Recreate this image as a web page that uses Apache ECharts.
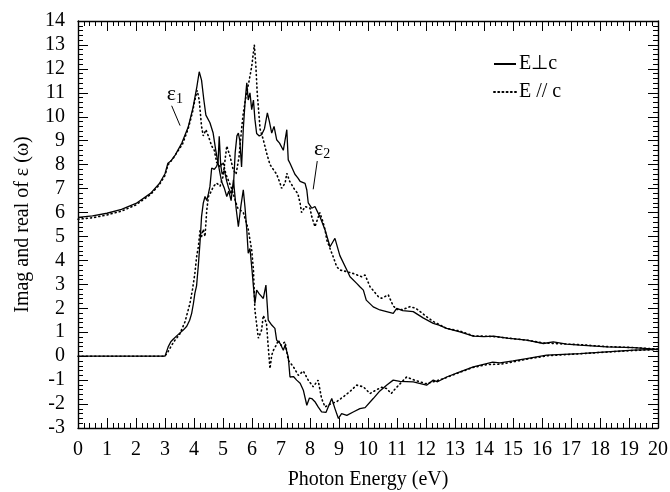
<!DOCTYPE html>
<html>
<head>
<meta charset="utf-8">
<title>Dielectric function</title>
<script src="https://cdn.jsdelivr.net/npm/echarts@6/dist/echarts.min.js"></script>
<style>
	*{margin:0;padding:0;}
	#main{width:670px;height:492px;background:#fff;}
</style>
</head>
<body>
<div id="main"></div>
<script>
// real part, E perpendicular c  [eV, value]
var eps1Perp = [[0,5.8],[0.5,5.86],[1,5.97],[1.5,6.13],[2,6.38],[2.5,6.8],[2.8,7.2],[3,7.62],[3.1,8.06],[3.2,8.15],[3.35,8.4],[3.58,8.9],[3.8,9.57],[3.97,10.4],[4.1,11.26],[4.18,11.88],[4.26,11.53],[4.34,10.7],[4.41,10.07],[4.45,10.05],[4.55,9.75],[4.66,9.32],[4.75,8.6],[4.83,8.06],[4.95,7.3],[5.05,7.0],[5.13,6.67],[5.2,6.9],[5.28,6.5],[5.36,7.37],[5.45,6.2],[5.53,5.41],[5.62,6.3],[5.7,6.95],[5.76,6.2],[5.82,5.27],[5.87,4.3],[5.93,4.5],[6.0,3.6],[6.1,2.2],[6.16,2.76],[6.25,2.6],[6.39,2.41],[6.48,2.97],[6.56,1.51],[6.68,1.3],[6.79,1.16],[6.85,0.67],[6.97,0.53],[7.08,0.25],[7.14,0.46],[7.25,-0.03],[7.31,-0.87],[7.43,-0.85],[7.54,-1.0],[7.66,-1.13],[7.77,-1.42],[7.89,-2.05],[7.98,-1.75],[8.06,-1.77],[8.17,-1.9],[8.28,-2.12],[8.4,-2.33],[8.55,-2.35],[8.75,-1.77],[8.86,-2.19],[8.98,-2.6],[9.09,-2.4],[9.27,-2.47],[9.49,-2.33],[9.72,-2.19],[9.9,-2.15],[10.18,-1.77],[10.41,-1.45],[10.65,-1.2],[10.87,-1.0],[11.1,-1.05],[11.56,-1.07],[12.02,-1.21],[12.25,-1.0],[12.4,-1.07],[12.71,-0.87],[13.17,-0.66],[13.63,-0.45],[14.09,-0.31],[14.3,-0.25],[14.55,-0.28],[15.0,-0.2],[15.47,-0.1],[16.16,0.04],[17.31,0.11],[18.23,0.18],[19.15,0.25],[20,0.28]];
// real part, E parallel c
var eps1Para = [[0,5.72],[0.5,5.78],[1,5.9],[1.5,6.06],[2,6.32],[2.5,6.75],[2.8,7.15],[3,7.55],[3.1,7.98],[3.3,8.3],[3.6,8.85],[3.8,9.5],[3.95,10.2],[4.03,10.7],[4.11,11.1],[4.18,10.7],[4.26,9.6],[4.32,9.2],[4.41,9.46],[4.5,9.18],[4.61,8.78],[4.7,8.6],[4.78,8.1],[4.9,7.9],[5.0,8.1],[5.1,7.6],[5.2,7.3],[5.3,7.0],[5.4,6.6],[5.5,6.2],[5.6,6.1],[5.7,6.0],[5.8,5.6],[5.87,5.3],[5.99,4.43],[6.05,3.6],[6.1,1.93],[6.22,0.75],[6.33,1.09],[6.39,1.7],[6.5,1.37],[6.56,0.39],[6.62,-0.52],[6.68,0.04],[6.74,0.25],[6.85,0.5],[6.91,0.67],[7.0,0.45],[7.14,0.6],[7.25,-0.17],[7.43,-0.45],[7.6,-0.8],[7.77,-0.62],[7.94,-1.0],[8.11,-1.28],[8.28,-1.0],[8.4,-1.77],[8.52,-2.12],[8.7,-2.0],[8.92,-1.9],[9.2,-1.65],[9.4,-1.45],[9.61,-1.21],[9.84,-1.28],[10.07,-1.56],[10.3,-1.4],[10.47,-1.3],[10.64,-1.35],[10.8,-1.56],[10.95,-1.35],[11.33,-0.87],[11.6,-1.0],[12.0,-1.15],[12.3,-1.05],[12.6,-0.94],[13.0,-0.75],[13.6,-0.48],[14.1,-0.35],[14.6,-0.33],[15.5,-0.12],[16.2,0.02],[17.3,0.1],[18.2,0.17],[19.2,0.24],[20,0.28]];
// imaginary part, E perpendicular c
var eps2Perp = [[0,0],[1,0],[2,0],[3,0],[3.05,0.05],[3.11,0.39],[3.2,0.6],[3.29,0.72],[3.45,0.9],[3.63,1.09],[3.75,1.25],[3.85,1.5],[3.92,1.79],[3.98,2.2],[4.03,2.62],[4.09,2.95],[4.15,3.8],[4.21,4.8],[4.26,5.83],[4.32,6.39],[4.38,6.67],[4.44,6.5],[4.5,6.8],[4.55,7.09],[4.61,7.86],[4.7,7.8],[4.78,7.93],[4.83,8.1],[4.87,9.18],[4.92,8.0],[4.97,7.6],[5.05,7.75],[5.13,7.3],[5.2,7.0],[5.28,6.8],[5.36,7.1],[5.42,8.5],[5.48,9.2],[5.53,9.32],[5.58,9.0],[5.64,7.9],[5.7,9.5],[5.76,10.6],[5.82,11.42],[5.87,10.7],[5.93,11.0],[5.99,10.3],[6.05,10.7],[6.1,9.9],[6.16,9.3],[6.25,9.2],[6.33,9.25],[6.43,9.5],[6.53,10.16],[6.6,9.8],[6.68,9.32],[6.76,9.6],[6.85,9.04],[6.95,8.9],[7.08,8.6],[7.2,9.46],[7.25,8.2],[7.31,8.06],[7.48,7.6],[7.58,7.45],[7.66,7.3],[7.83,7.22],[7.89,6.94],[7.94,6.4],[8.06,6.18],[8.17,6.25],[8.34,5.83],[8.52,5.27],[8.69,4.57],[8.8,4.8],[8.86,4.92],[9.03,4.2],[9.27,3.6],[9.38,3.32],[9.61,3.04],[9.72,2.9],[9.84,2.76],[9.94,2.34],[10.18,2.06],[10.41,1.93],[10.87,1.79],[10.99,2.0],[11.2,1.9],[11.56,1.86],[11.9,1.6],[12.25,1.37],[12.45,1.3],[12.71,1.16],[13.17,1.02],[13.63,0.84],[14.0,0.82],[14.32,0.84],[14.8,0.75],[15.47,0.67],[16.05,0.53],[16.39,0.6],[16.85,0.5],[17.31,0.46],[18.23,0.39],[19.15,0.36],[20,0.28]];
// imaginary part, E parallel c
var eps2Para = [[0,0],[1,0],[2,0],[3,0],[3.11,0.2],[3.3,0.6],[3.5,0.9],[3.69,1.44],[3.86,2.2],[3.95,2.8],[4.03,3.46],[4.09,4.15],[4.15,4.57],[4.21,5.27],[4.26,5.0],[4.32,5.3],[4.38,5.0],[4.44,6.11],[4.5,6.67],[4.6,6.9],[4.67,7.09],[4.78,7.23],[4.9,7.1],[5.0,7.5],[5.13,8.78],[5.24,8.36],[5.35,7.8],[5.45,7.6],[5.55,8.3],[5.65,9.6],[5.7,10.16],[5.8,10.9],[5.9,11.5],[5.99,12.1],[6.08,13.0],[6.13,12.2],[6.18,11.0],[6.28,9.48],[6.39,9.04],[6.5,8.5],[6.62,8.0],[6.68,8.06],[6.74,7.79],[6.85,7.6],[6.97,7.22],[7.02,7.01],[7.14,7.22],[7.2,7.64],[7.3,7.3],[7.48,6.94],[7.58,6.8],[7.66,6.38],[7.71,6.0],[7.83,6.25],[8.0,6.18],[8.06,5.83],[8.17,5.41],[8.34,6.0],[8.45,5.6],[8.52,5.27],[8.58,4.85],[8.8,4.15],[8.92,3.74],[9.03,3.6],[9.27,3.53],[9.5,3.45],[9.78,3.32],[9.9,3.39],[10.07,2.9],[10.36,2.48],[10.47,2.42],[10.7,2.56],[10.87,2.1],[11.0,1.95],[11.2,1.95],[11.45,2.07],[11.65,2.0],[12.02,1.65],[12.25,1.45],[12.71,1.16],[13.17,1.05],[13.63,0.85],[14.32,0.82],[15.47,0.67],[16.05,0.55],[17.31,0.48],[18.23,0.4],[19.15,0.36],[20,0.3]];

var legendNames = ['E\u22a5c', 'E // c'];
var xTicks = {min: 0, max: 20, step: 1};
var yTicks = {min: -3, max: 14, step: 1};

var myChart = echarts.init(document.getElementById('main'));
var serif = 'Liberation Serif';

function axisCommon(pos, showLabel){
	return {
		type: 'value',
		position: pos,
		axisLine: {show: true, onZero: false, lineStyle: {color: '#000', width: 1.4}},
		axisTick: {show: true, inside: true, length: 10, lineStyle: {color: '#000', width: 1}},
		minorTick: {show: true, splitNumber: 5, length: 5, lineStyle: {color: '#000', width: 1}},
		splitLine: {show: false},
		axisLabel: {show: showLabel, color: '#000', fontFamily: serif, fontSize: 20},
	};
}

var xBottom = axisCommon('bottom', true);
xBottom.min = xTicks.min; xBottom.max = xTicks.max; xBottom.interval = xTicks.step;
xBottom.axisLabel.margin = 12;
xBottom.name = 'Photon Energy (eV)';
xBottom.nameLocation = 'middle';
xBottom.nameGap = 42;
xBottom.nameTextStyle = {color: '#000', fontFamily: serif, fontSize: 20};
var xTop = axisCommon('top', false);
xTop.min = xTicks.min; xTop.max = xTicks.max; xTop.interval = xTicks.step;

var yLeft = axisCommon('left', true);
yLeft.min = yTicks.min; yLeft.max = yTicks.max; yLeft.interval = yTicks.step;
yLeft.axisLabel.margin = 13;
yLeft.name = 'Imag and real of \u03b5 (\u03c9)';
yLeft.nameLocation = 'middle';
yLeft.nameGap = 45;
yLeft.nameTextStyle = {color: '#000', fontFamily: serif, fontSize: 20};
var yRight = axisCommon('right', false);
yRight.min = yTicks.min; yRight.max = yTicks.max; yRight.interval = yTicks.step;

var solid = {color: '#000', width: 1.3, type: 'solid'};
var dotted = {color: '#000', width: 1.6, type: [1, 3.2], cap: 'round'};

var labelRich = {
	a: {fontFamily: serif, fontSize: 22, color: '#000'},
	b: {fontFamily: serif, fontSize: 14, color: '#000', padding: [10, 0, 0, 0]}
};

var option = {
	backgroundColor: '#fff',
	animation: false,
	color: ['#000', '#000', '#000', '#000'],
	grid: {left: 78, right: 12, top: 21, bottom: 64, outerBoundsMode: 'none'},
	legend: {
		data: legendNames,
		orient: 'vertical',
		left: 488, top: 49,
		itemWidth: 22, itemHeight: 10, itemGap: 8,
		itemStyle: {color: 'rgba(0,0,0,0)', borderColor: 'rgba(0,0,0,0)', borderWidth: 0},
		textStyle: {fontFamily: serif, fontSize: 20, color: '#000', padding: [0, 0, 0, -2]}
	},
	xAxis: [xBottom, xTop],
	yAxis: [yLeft, yRight],
	series: [
		{
			name: legendNames[0], type: 'line', data: eps1Perp, symbol: 'none',
			lineStyle: solid, z: 3,
			markLine: {
				silent: true, symbol: 'none', label: {show: false},
				lineStyle: {color: '#000', width: 1, type: 'solid'},
				data: [[{coord: [3.23, 10.46]}, {coord: [3.52, 9.63]}]]
			},
			markPoint: {
				symbolSize: 0,
				label: {show: true, formatter: '{a|\u03b5}{b|1}', rich: labelRich},
				data: [{coord: [3.34, 10.95]}]
			}
		},
		{
			name: legendNames[1], type: 'line', data: eps1Para, symbol: 'none',
			lineStyle: dotted
		},
		{
			name: legendNames[0], type: 'line', data: eps2Perp, symbol: 'none',
			lineStyle: solid, z: 3,
			markLine: {
				silent: true, symbol: 'none', label: {show: false},
				lineStyle: {color: '#000', width: 1, type: 'solid'},
				data: [[{coord: [8.25, 8.15]}, {coord: [8.11, 6.97]}]]
			},
			markPoint: {
				symbolSize: 0,
				label: {show: true, formatter: '{a|\u03b5}{b|2}', rich: labelRich},
				data: [{coord: [8.42, 8.65]}]
			}
		},
		{
			name: legendNames[1], type: 'line', data: eps2Para, symbol: 'none',
			lineStyle: dotted
		}
	]
};

myChart.setOption(option);
</script>
</body>
</html>
